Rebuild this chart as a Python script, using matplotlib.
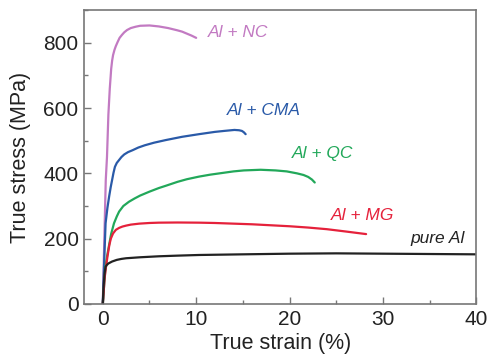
import matplotlib
matplotlib.use("Agg")
import matplotlib.pyplot as plt
from matplotlib.ticker import MultipleLocator

plt.rcParams["font.family"] = ["Liberation Sans", "DejaVu Sans"]

# Stress-strain curves (strain in %, stress in MPa)
pure_strain = [0, 0.1, 0.2, 0.3, 0.45, 0.6, 0.8, 1.0, 1.5, 2, 2.5, 3, 4, 6, 8, 10.3,
               15, 20, 25, 30, 35, 40]
pure_stress = [0, 60, 95, 114, 120, 124, 127, 130, 135, 138, 140, 141, 143, 146, 148, 150,
               152, 154, 155, 154, 153, 152]

mg_strain = [0, 0.2, 0.35, 0.5, 0.7, 0.86, 1.1, 1.4, 1.75, 2.1, 2.5, 3.0, 3.9, 5, 6, 8,
             10.3, 12, 14, 16, 18, 20, 22, 24, 26, 28.2]
mg_stress = [0, 80, 115, 145, 180, 200, 216, 227, 233, 237, 240, 243, 246, 248, 249, 249.5,
             249, 248, 246, 244, 241, 238, 234, 229, 222, 214]

qc_strain = [0, 0.15, 0.29, 0.45, 0.64, 0.9, 1.2, 1.5, 1.75, 2.2, 2.8, 3.4, 4, 5, 6, 6.75,
             8, 9, 10.3, 11.5, 13, 14, 15.1, 16.9, 18.5, 19.7, 20.8, 21.5, 22, 22.4, 22.7]
qc_stress = [0, 60, 114, 145, 175, 215, 247, 268, 283, 300, 313, 323, 332, 344, 355, 362,
             374, 382, 390, 396, 402, 406, 409, 411, 409, 406, 400, 395, 389, 381, 372]

cma_strain = [0, 0.15, 0.3, 0.5, 0.68, 0.85, 1.0, 1.15, 1.3, 1.5, 1.75, 2.0, 2.3, 2.7, 3.2,
              3.8, 4.5, 5.5, 6.75, 8.5, 10.3, 12, 13, 14.1, 14.6, 14.9, 15.1, 15.3]
cma_stress = [0, 130, 247, 295, 329, 358, 380, 402, 420, 432, 441, 450, 458, 465, 471,
              479, 486, 494, 502, 512, 520, 527, 530, 533, 532, 530, 526, 520]

nc_strain = [0, 0.15, 0.25, 0.32, 0.45, 0.6, 0.75, 0.9, 1.0, 1.1, 1.25, 1.4, 1.6, 1.8, 2.05,
             2.3, 2.6, 3.0, 3.5, 4.0, 5.0, 6.0, 7.0, 8.0, 8.5, 9.0, 9.5, 10.0]
nc_stress = [0, 180, 300, 380, 450, 580, 660, 720, 745, 762, 778, 790, 803, 815, 824,
             832, 839, 845, 849, 852, 853, 850, 845, 838, 834, 828, 822, 815]

labels = ["pure Al", "Al + MG", "Al + QC", "Al + CMA", "Al + NC"]
colors = ["#222222", "#e5213b", "#22a85a", "#2a5aa8", "#c27ac2"]
label_x = [33.0, 24.4, 20.3, 13.3, 11.2]
label_y = [202, 272, 462, 592, 830]

curves = [
    (pure_strain, pure_stress),
    (mg_strain, mg_stress),
    (qc_strain, qc_stress),
    (cma_strain, cma_stress),
    (nc_strain, nc_stress),
]

fig = plt.figure(figsize=(4.89, 3.61), dpi=100)
ax = fig.add_axes([0.172, 0.158, 0.802, 0.814])

for (sx, sy), c in zip(curves[::-1], colors[::-1]):
    ax.plot(sx, sy, color=c, lw=1.6, solid_capstyle="round", solid_joinstyle="round")

for lab, c, lx, ly in zip(labels, colors, label_x, label_y):
    ax.text(lx, ly, lab, color=c, fontsize=12.5, fontstyle="italic",
            ha="left", va="center")

ax.set_xlim(-2, 40)
ax.set_ylim(0, 900)
ax.xaxis.set_major_locator(MultipleLocator(10))
ax.xaxis.set_minor_locator(MultipleLocator(5))
ax.yaxis.set_major_locator(MultipleLocator(200))
ax.yaxis.set_minor_locator(MultipleLocator(100))

for s in ax.spines.values():
    s.set_color("#777777")
    s.set_linewidth(1.2)

ax.tick_params(which="both", direction="in", color="#777777", labelcolor="#222222")
ax.tick_params(which="major", length=5, width=1, labelsize=15, pad=4)
ax.tick_params(which="minor", length=3, width=1)

ax.set_xlabel("True strain (%)", fontsize=15.5, color="#222222", labelpad=3)
ax.set_ylabel("True stress (MPa)", fontsize=15.5, color="#222222", labelpad=9)

fig.savefig("out.png", dpi=100)
